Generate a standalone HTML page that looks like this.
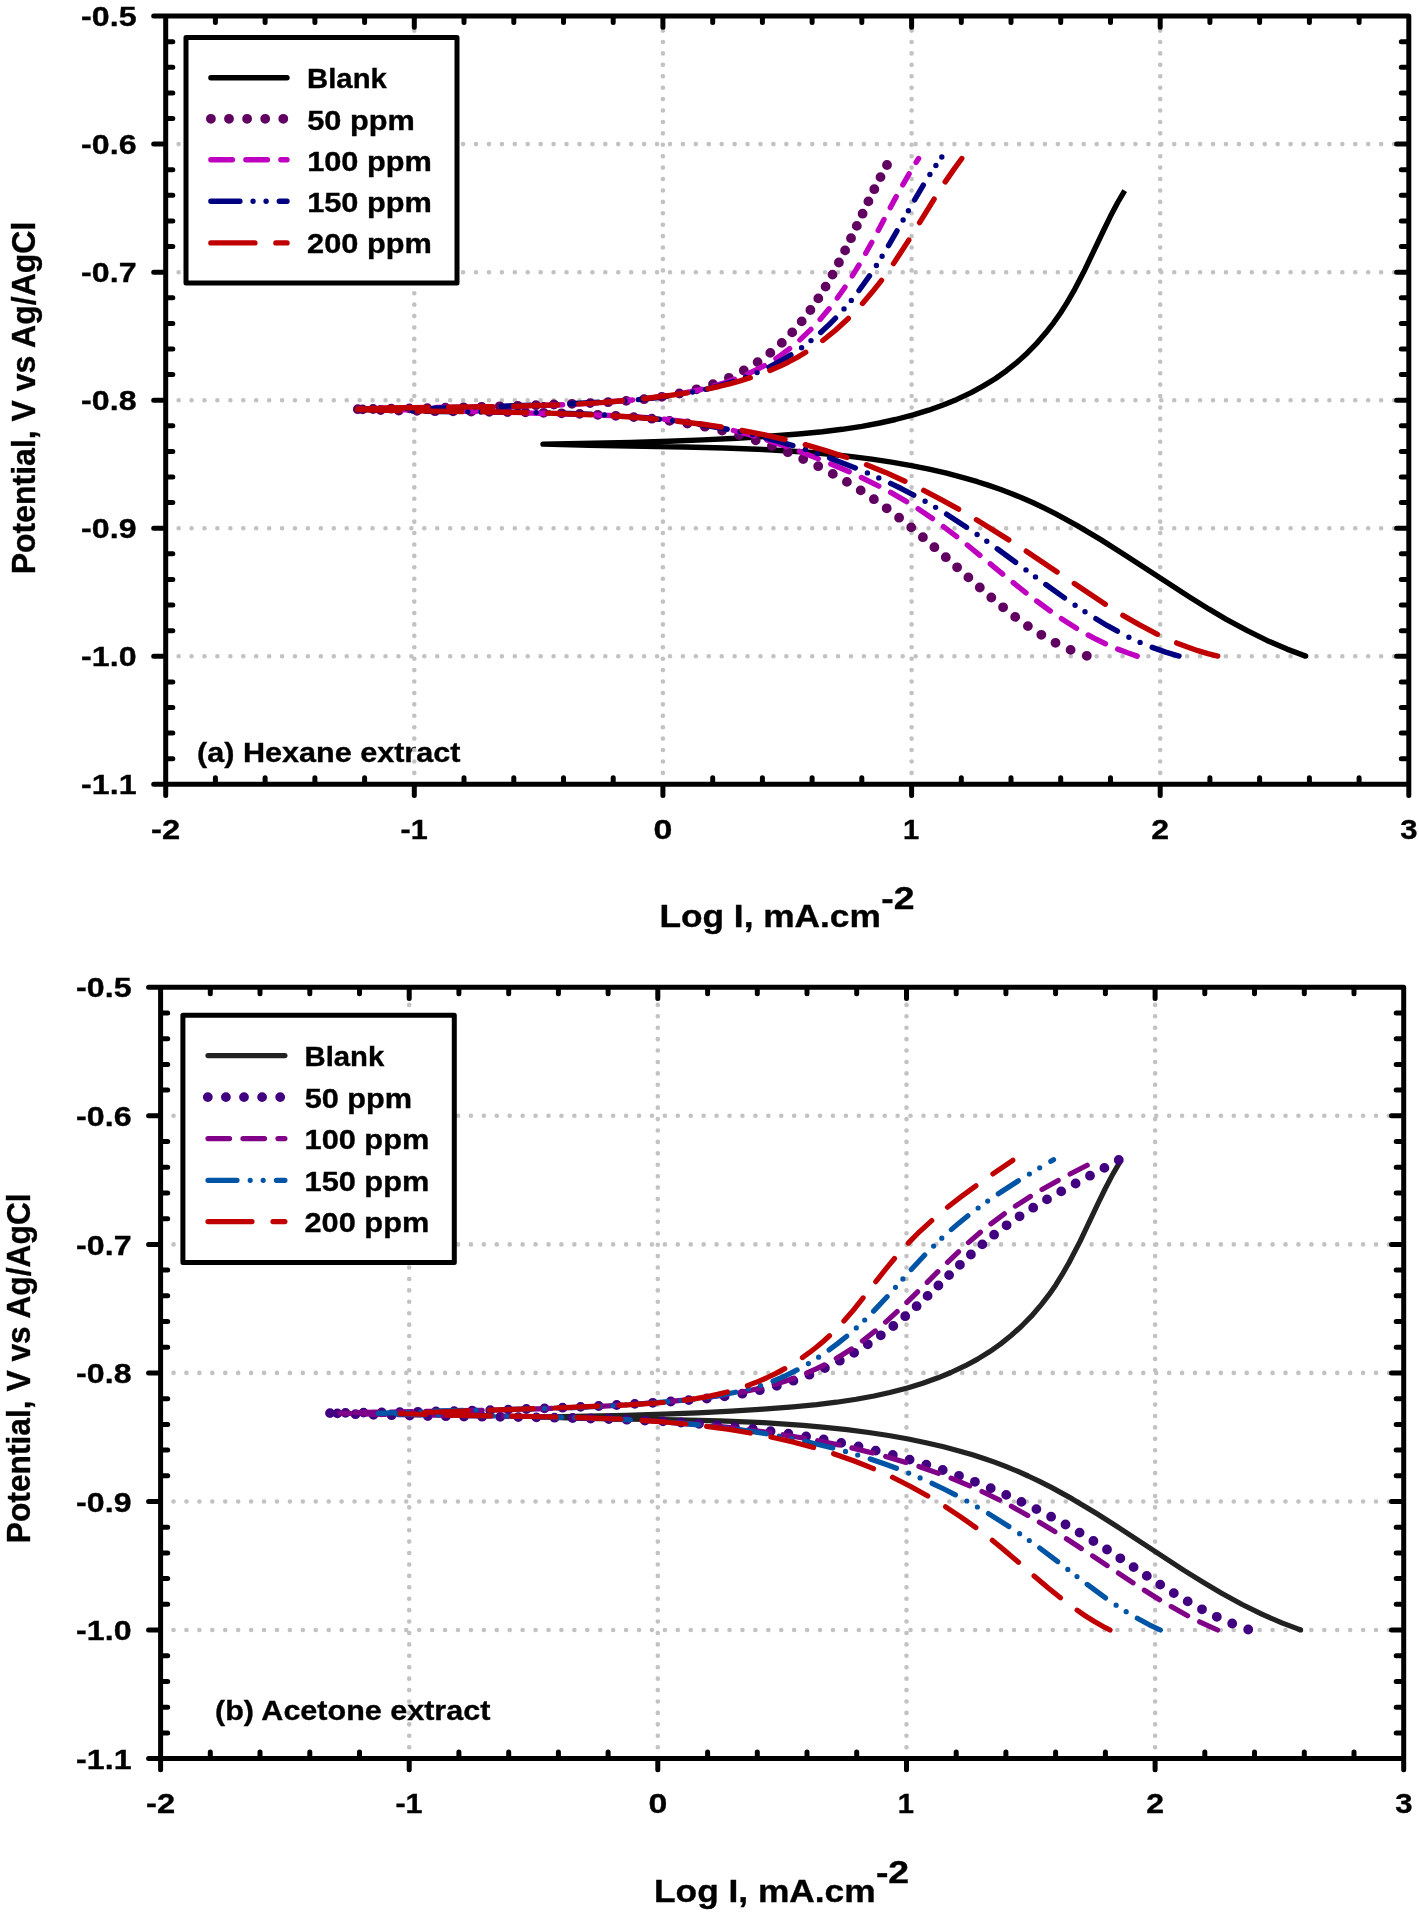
<!DOCTYPE html>
<html><head><meta charset="utf-8"><title>Polarization curves</title>
<style>html,body{margin:0;padding:0;background:#fff}svg{display:block}text{font-family:"Liberation Sans",sans-serif;font-weight:bold}svg{will-change:transform}</style></head>
<body>
<svg width="1419" height="1916" viewBox="0 0 1419 1916" font-family="Liberation Sans, sans-serif" font-weight="bold" fill="#000">
<rect width="1419" height="1916" fill="#fff"/>
<text x="197.07" y="761.50" font-size="27.6" textLength="263.35" lengthAdjust="spacingAndGlyphs" stroke="#000" stroke-width="0.35" >(a) Hexane extract</text>
<path d="M165.7 144.1H1408.8" stroke="#c2c2c2" stroke-width="4.6" stroke-linecap="round" stroke-dasharray="0 12.93" fill="none"/>
<path d="M165.7 272.2H1408.8" stroke="#c2c2c2" stroke-width="4.6" stroke-linecap="round" stroke-dasharray="0 12.93" fill="none"/>
<path d="M165.7 400.2H1408.8" stroke="#c2c2c2" stroke-width="4.6" stroke-linecap="round" stroke-dasharray="0 12.93" fill="none"/>
<path d="M165.7 528.2H1408.8" stroke="#c2c2c2" stroke-width="4.6" stroke-linecap="round" stroke-dasharray="0 12.93" fill="none"/>
<path d="M165.7 656.3H1408.8" stroke="#c2c2c2" stroke-width="4.6" stroke-linecap="round" stroke-dasharray="0 12.93" fill="none"/>
<path d="M414.3 784.3V16.1" stroke="#c2c2c2" stroke-width="4.6" stroke-linecap="round" stroke-dasharray="0 11.42" fill="none"/>
<path d="M662.9 784.3V16.1" stroke="#c2c2c2" stroke-width="4.6" stroke-linecap="round" stroke-dasharray="0 11.42" fill="none"/>
<path d="M911.6 784.3V16.1" stroke="#c2c2c2" stroke-width="4.6" stroke-linecap="round" stroke-dasharray="0 11.42" fill="none"/>
<path d="M1160.2 784.3V16.1" stroke="#c2c2c2" stroke-width="4.6" stroke-linecap="round" stroke-dasharray="0 11.42" fill="none"/>
<path d="M1305.7 656.1 L1287 649.1 L1266.9 640.4 L1247.3 630.7 L1226.3 619.3 L1209.1 609.2 L1188.7 596.5 L1124.9 554.9 L1101.2 539.9 L1077.2 525.6 L1056.3 514.1 L1043.9 507.9 L1033.2 502.8 L1022.3 498 L1011.2 493.5 L1000.1 489.3 L988.8 485.4 L977.4 481.7 L964 477.8 L946.6 473.2 L929 469.2 L911.3 465.6 L891.5 462.1 L871.7 459.2 L851.9 456.6 L830 454.3 L808.2 452.3 L768.4 449.7 L724.6 448 L684.8 447 L589 445.4 L543 444.1 L631.1 442.4 L669.1 441.3 L703 439.9 L736.9 438.2 L768.8 436.3 L798.5 434 L822.3 431.7 L842.1 429.3 L861.9 426.3 L879.7 423 L895.5 419.5 L913.2 414.9 L928.6 410.2 L943.8 404.7 L956.8 399.4 L971.2 392.6 L983.4 385.9 L995.2 378.7 L1006.5 370.7 L1017.3 362.1 L1027.6 352.7 L1037.2 342.8 L1047.5 330.7 L1053.6 322.8 L1060.5 313 L1066.9 302.9 L1074 290.7 L1085.1 269.2 L1103.3 231 L1110.3 216.6 L1117.7 202.5 L1124.7 190.6" fill="none" stroke="#000000" stroke-width="5.4" stroke-linecap="butt" stroke-linejoin="round"/>
<circle cx="1305.7" cy="656.1" r="2.7" fill="#000000"/>
<path d="M1086.8 655.8h0 M1070.6 649.9h0 M1055.5 642.8h0 M1041.3 634.8h0 M1027.9 626.1h0 M1015.2 616.9h0 M1003.1 607.3h0 M991.3 597.5h0 M979.8 587.5h0 M968.4 577.4h0 M957.1 567.3h0 M945.8 557.2h0 M934.4 547.2h0 M922.9 537.2h0 M911.2 527.4h0 M899.1 517.7h0 M886.7 508.3h0 M873.9 499.2h0 M860.7 490.4h0 M846.9 481.9h0 M832.8 473.9h0 M818.2 466.2h0 M803.2 459h0 M787.8 452.2h0 M771.9 446h0 M755.7 440.3h0 M739.1 435.1h0 M722.1 430.6h0 M704.9 426.7h0 M687.4 423.5h0 M669.6 420.9h0 M651.8 418.7h0 M633.8 417.1h0 M615.8 415.8h0 M597.8 414.8h0 M579.7 413.9h0 M561.6 413.3h0 M543.6 412.8h0 M525.5 412.4h0 M507.4 412.1h0 M489.3 411.8h0 M471.2 411.6h0 M453.1 411.4h0 M435 411.2h0 M416.9 410.9h0 M398.8 410.5h0 M380.7 410h0 M362.6 409.4h0 M887 165h0 M880.5 177.1h0 M874.3 189.2h0 M868.4 201.4h0 M862.6 213.7h0 M856.8 225.9h0 M851 238.2h0 M845.1 250.4h0 M838.9 262.5h0 M832.5 274.6h0 M825.6 286.6h0 M818.3 298.4h0 M810.4 310h0 M801.7 321.4h0 M792.2 332.4h0 M781.8 342.9h0 M770.3 352.9h0 M757.6 362.1h0 M743.8 370.5h0 M728.9 377.8h0 M713 384.1h0 M696.5 389.3h0 M679.4 393.5h0 M661.9 396.8h0 M644.1 399.2h0 M626.2 400.9h0 M608.1 402.2h0 M590.1 403.1h0 M572 403.8h0 M553.9 404.5h0 M535.9 405.2h0 M517.8 405.8h0 M499.7 406.3h0 M481.6 406.8h0 M463.5 407.3h0 M445.4 407.7h0 M427.3 408.1h0 M409.3 408.4h0 M391.2 408.7h0 M373.1 409h0 M357.8 409.2h0" fill="none" stroke="#600060" stroke-width="9.8" stroke-linecap="round"/>
<path d="M1137.2 656.1 L1127.5 652.8 L1117.7 649.1 M1105.4 643.7 L1096.3 639.3 L1088.2 635 M1076.5 628.3 L1061.5 618.7 M1050.3 611 L1036.7 601 M1026 592.8 L1013.2 582.6 M1002.7 574.1 L990.3 563.8 M979.9 555.3 L967.3 545 M956.7 536.7 L943.5 526.6 M932.5 518.6 L918.1 508.8 M906.7 501.7 L890.7 492.4 M878.8 486.1 L861.4 477.5 M849.2 471.8 L830.8 463.9 M818.3 458.7 L799.3 451.3 M786.6 446.7 L766.9 440 M754 436 L733.4 430.5 M720.2 427.6 L699 423.7 M685.7 421.7 L664.3 419.2 M650.8 418 L629.3 416.5 M615.9 415.8 L594.4 414.9 M580.9 414.5 L559.4 413.9 M545.9 413.5 L524.4 412.9 M510.9 412.5 L489.4 411.9 M475.9 411.5 L454.4 410.9 M440.9 410.6 L419.4 410.1 M405.9 409.9 L384.4 409.5 M370.9 409.3 L357.8 409.2 M918.6 158.5 L916.1 162.4 M909.1 173.9 L902.8 184.8 M896.2 196.6 L890.3 207.6 M884 219.5 L878.2 230.4 M871.8 242.3 L865.7 253.3 M859 265 L852.3 275.9 M845 287.2 L837.3 298 M829.1 308.8 L820.1 319.5 M810.9 329.4 L799.9 339.9 M789.6 348.6 L782.9 353.7 L775.9 358.6 M764.4 365.6 L756 370 L747.1 374.2 M734.6 379.3 L725.3 382.6 L714.7 385.9 M701.7 389.3 L690.7 391.7 L680.6 393.6 M667.3 395.8 L645.9 398.6 M632.5 400 L611 401.8 M597.6 402.8 L576.1 404.1 M562.6 404.7 L541.1 405.5 M527.6 405.9 L506.1 406.4 M492.6 406.7 L471.1 407 M457.6 407.2 L436.1 407.4 M422.6 407.6 L401.1 408 M387.6 408.3 L366.1 408.9" fill="none" stroke="#c000c0" stroke-width="5.4" stroke-linecap="round" stroke-linejoin="round"/>
<path d="M1179 656.1 L1165.6 652.1 L1152.2 647.4 M1117.4 631.2 L1107.4 625.7 L1095.9 618.7 M1064.5 597.9 L1045.8 584.5 M1015.6 562.3 L997.2 548.8 M966.5 527.2 L946.6 514.2 M913.8 495.1 L901.7 488.8 L890.6 483.4 M855.4 467.9 L829.6 458 M792.9 445.6 L778.7 441.4 L765.4 437.8 M727.2 429.2 L698.6 424.3 M659.6 419.3 L630.6 416.7 M591.3 414.3 L562.3 413.2 M523 412.4 L494 412.1 M454.6 411.7 L425.6 411.3 M386.2 410.4 L357.8 409.2 M923.3 185.1 L914.6 199.9 M897 230.8 L888.5 245.6 M869.5 275.9 L859 290.5 M835.5 318.2 L828.4 325.3 L820.7 332.4 M790.9 354.9 L780.7 361 L768.9 367.1 M733.2 381.6 L719.9 385.6 L705.6 389.3 M667 396.3 L653.3 398 L638.2 399.6 M598.9 402.3 L569.9 403.7 M530.5 405.3 L501.5 406.3 M462.2 407.4 L433.2 408.1 M393.8 408.8 L364.8 409.1" fill="none" stroke="#000080" stroke-width="5.4" stroke-linecap="round" stroke-linejoin="round"/>
<path d="M1140.1 642.4h0 M1128.9 637.2h0 M1085 611.8h0 M1075.1 605.2h0 M1035.5 576.9h0 M1026 569.9h0 M986.8 541.3h0 M977.1 534.5h0 M935.6 507.4h0 M925.1 501.3h0 M878.8 477.9h0 M867.4 472.9h0 M817.3 453.6h0 M805.4 449.5h0 M752.6 434.6h0 M740.1 431.8h0 M685.5 422.4h0 M672.7 420.8h0 M617.5 415.8h0 M604.5 415h0 M549.1 412.9h0 M536.2 412.6h0 M480.8 412h0 M467.8 411.8h0 M412.4 411.1h0 M399.4 410.8h0 M935.9 165.5h0 M929.9 174.5h0 M908.4 210.7h0 M903.1 220h0 M882.1 256.3h0 M876.4 265.5h0 M851.3 300.4h0 M844 308.9h0 M811 340.6h0 M801.6 347.7h0 M757.1 372.6h0 M745.5 377.2h0 M692.7 392h0 M680.1 394.3h0 M625 400.7h0 M612.1 401.5h0 M556.7 404.3h0 M543.7 404.8h0 M488.3 406.7h0 M475.4 407.1h0 M420 408.4h0 M407 408.6h0" fill="none" stroke="#000080" stroke-width="5.4" stroke-linecap="round"/>
<circle cx="941.8" cy="157" r="2.7" fill="#000080"/>
<path d="M1217.7 656.1 L1207.8 653.6 L1197.9 650.7 L1186.8 646.8 L1176.6 642.9 M1157.5 634.3 L1140.1 625.2 L1122.9 615.3 M1105.3 604.2 L1074.3 583.6 M1057.1 571.9 L1026.3 551.2 M1008.8 539.9 L976.5 519.8 M958.6 509.2 L940.8 499.4 L923.7 490.4 M904.9 481.2 L885.6 472.4 L866.5 464.7 M846.9 457.5 L825.7 450.6 L805.3 444.7 M785 439.5 L763.7 434.7 L741.9 430.5 M721.2 427 L700.4 424 L677.4 421.2 M656.5 419.1 L635.2 417.3 L612.6 415.8 M591.6 414.7 L547.6 413.1 M526.6 412.6 L482.6 411.8 M461.6 411.6 L417.6 410.9 M396.6 410.4 L357.8 409.2 M961.8 158.5 L953.7 169.6 L945.2 181.9 M934.1 199.1 L919.6 222.6 M908.8 240.1 L893.5 263.6 M881.5 280.3 L872.6 291.6 L862.5 303.4 M848.3 318.4 L835.2 330.5 L822.8 340.5 M805.7 352.3 L796.7 357.7 L788.1 362.2 L779 366.6 L769.9 370.5 M750.3 377.7 L740.1 380.9 L730.5 383.6 L718.8 386.5 L707.9 388.9 M687.3 392.8 L666.9 395.8 L643.5 398.7 M622.6 400.8 L601 402.6 L578.7 403.9 M557.7 404.9 L513.7 406.2 M492.7 406.6 L448.7 407.1 M427.7 407.4 L383.7 408.3 M362.7 409 L357.8 409.2" fill="none" stroke="#c00000" stroke-width="5.4" stroke-linecap="round" stroke-linejoin="round"/>
<path d="M399.7 410.5 L357.8 409.2 L404 407.8" fill="none" stroke="#c00000" stroke-width="5.4" stroke-linecap="round" stroke-linejoin="round"/>
<path d="M165.7 16.1H1408.8V784.3H165.7ZM165.7 784.3v11.2M215.4 784.3v-6.5M215.4 16.1v6.5M265.1 784.3v-6.5M265.1 16.1v6.5M314.9 784.3v-6.5M314.9 16.1v6.5M364.6 784.3v-6.5M364.6 16.1v6.5M414.3 784.3v11.2M414.3 16.1v11.2M464 784.3v-6.5M464 16.1v6.5M513.8 784.3v-6.5M513.8 16.1v6.5M563.5 784.3v-6.5M563.5 16.1v6.5M613.2 784.3v-6.5M613.2 16.1v6.5M662.9 784.3v11.2M662.9 16.1v11.2M712.7 784.3v-6.5M712.7 16.1v6.5M762.4 784.3v-6.5M762.4 16.1v6.5M812.1 784.3v-6.5M812.1 16.1v6.5M861.8 784.3v-6.5M861.8 16.1v6.5M911.6 784.3v11.2M911.6 16.1v11.2M961.3 784.3v-6.5M961.3 16.1v6.5M1011 784.3v-6.5M1011 16.1v6.5M1060.7 784.3v-6.5M1060.7 16.1v6.5M1110.5 784.3v-6.5M1110.5 16.1v6.5M1160.2 784.3v11.2M1160.2 16.1v11.2M1209.9 784.3v-6.5M1209.9 16.1v6.5M1259.6 784.3v-6.5M1259.6 16.1v6.5M1309.4 784.3v-6.5M1309.4 16.1v6.5M1359.1 784.3v-6.5M1359.1 16.1v6.5M1408.8 784.3v11.2M165.7 16.1h-12M165.7 41.7h7.1M1408.8 41.7h-7.5M165.7 67.3h7.1M1408.8 67.3h-7.5M165.7 92.9h7.1M1408.8 92.9h-7.5M165.7 118.5h7.1M1408.8 118.5h-7.5M165.7 144.1h-12M1408.8 144.1h-12.2M165.7 169.7h7.1M1408.8 169.7h-7.5M165.7 195.3h7.1M1408.8 195.3h-7.5M165.7 221h7.1M1408.8 221h-7.5M165.7 246.6h7.1M1408.8 246.6h-7.5M165.7 272.2h-12M1408.8 272.2h-12.2M165.7 297.8h7.1M1408.8 297.8h-7.5M165.7 323.4h7.1M1408.8 323.4h-7.5M165.7 349h7.1M1408.8 349h-7.5M165.7 374.6h7.1M1408.8 374.6h-7.5M165.7 400.2h-12M1408.8 400.2h-12.2M165.7 425.8h7.1M1408.8 425.8h-7.5M165.7 451.4h7.1M1408.8 451.4h-7.5M165.7 477h7.1M1408.8 477h-7.5M165.7 502.6h7.1M1408.8 502.6h-7.5M165.7 528.2h-12M1408.8 528.2h-12.2M165.7 553.8h7.1M1408.8 553.8h-7.5M165.7 579.4h7.1M1408.8 579.4h-7.5M165.7 605.1h7.1M1408.8 605.1h-7.5M165.7 630.7h7.1M1408.8 630.7h-7.5M165.7 656.3h-12M1408.8 656.3h-12.2M165.7 681.9h7.1M1408.8 681.9h-7.5M165.7 707.5h7.1M1408.8 707.5h-7.5M165.7 733.1h7.1M1408.8 733.1h-7.5M165.7 758.7h7.1M1408.8 758.7h-7.5M165.7 784.3h-12" fill="none" stroke="#000" stroke-width="5" stroke-linecap="round" stroke-linejoin="round"/>
<text x="81.11" y="26.20" font-size="27.8" textLength="55.41" lengthAdjust="spacingAndGlyphs" stroke="#000" stroke-width="0.35" >-0.5</text>
<text x="81.11" y="154.23" font-size="27.8" textLength="55.41" lengthAdjust="spacingAndGlyphs" stroke="#000" stroke-width="0.35" >-0.6</text>
<text x="81.11" y="282.27" font-size="27.8" textLength="55.41" lengthAdjust="spacingAndGlyphs" stroke="#000" stroke-width="0.35" >-0.7</text>
<text x="81.11" y="410.30" font-size="27.8" textLength="55.41" lengthAdjust="spacingAndGlyphs" stroke="#000" stroke-width="0.35" >-0.8</text>
<text x="81.11" y="538.33" font-size="27.8" textLength="55.41" lengthAdjust="spacingAndGlyphs" stroke="#000" stroke-width="0.35" >-0.9</text>
<text x="81.11" y="666.37" font-size="27.8" textLength="55.41" lengthAdjust="spacingAndGlyphs" stroke="#000" stroke-width="0.35" >-1.0</text>
<text x="81.11" y="794.40" font-size="27.8" textLength="55.41" lengthAdjust="spacingAndGlyphs" stroke="#000" stroke-width="0.35" >-1.1</text>
<text x="151.14" y="839.20" font-size="27.8" textLength="29.09" lengthAdjust="spacingAndGlyphs" stroke="#000" stroke-width="0.35" >-2</text>
<text x="400.50" y="839.20" font-size="27.8" textLength="27.16" lengthAdjust="spacingAndGlyphs" stroke="#000" stroke-width="0.35" >-1</text>
<text x="653.53" y="839.20" font-size="27.8" textLength="18.85" lengthAdjust="spacingAndGlyphs" stroke="#000" stroke-width="0.35" >0</text>
<text x="902.96" y="839.20" font-size="27.8" textLength="16.21" lengthAdjust="spacingAndGlyphs" stroke="#000" stroke-width="0.35" >1</text>
<text x="1151.36" y="839.20" font-size="27.8" textLength="17.84" lengthAdjust="spacingAndGlyphs" stroke="#000" stroke-width="0.35" >2</text>
<text x="1400.32" y="839.20" font-size="27.8" textLength="17.30" lengthAdjust="spacingAndGlyphs" stroke="#000" stroke-width="0.35" >3</text>
<text x="659.41" y="927.10" font-size="31" textLength="221.45" lengthAdjust="spacingAndGlyphs" stroke="#000" stroke-width="0.35" >Log I, mA.cm</text>
<text x="881.30" y="909.10" font-size="31" textLength="33.26" lengthAdjust="spacingAndGlyphs" stroke="#000" stroke-width="0.35" >-2</text>
<text transform="translate(35 572.4) rotate(-90)" x="-1.98" y="0" font-size="33.5" textLength="352.73" lengthAdjust="spacingAndGlyphs" stroke="#000" stroke-width="0.35">Potential, V vs Ag/AgCl</text>
<rect x="186" y="37.5" width="271" height="245.5" fill="#fff" stroke="#000" stroke-width="5" stroke-linejoin="round"/>
<path d="M210.9 77.7 L287 77.7" fill="none" stroke="#000000" stroke-width="5.4" stroke-linecap="round" stroke-linejoin="round"/>
<text x="307.10" y="88.20" font-size="27.6" textLength="79.70" lengthAdjust="spacingAndGlyphs" stroke="#000" stroke-width="0.35" >Blank</text>
<path d="M210.9 118.8h0 M229 118.8h0 M247.1 118.8h0 M265.2 118.8h0 M283.3 118.8h0" fill="none" stroke="#600060" stroke-width="9.8" stroke-linecap="round"/>
<text x="307.28" y="129.80" font-size="27.6" textLength="107.49" lengthAdjust="spacingAndGlyphs" stroke="#000" stroke-width="0.35" >50 ppm</text>
<path d="M210.9 159.8 L232.4 159.8 M245.9 159.8 L267.4 159.8 M280.9 159.8 L287 159.8" fill="none" stroke="#c000c0" stroke-width="5.4" stroke-linecap="round" stroke-linejoin="round"/>
<text x="307.16" y="171.00" font-size="27.6" textLength="124.70" lengthAdjust="spacingAndGlyphs" stroke="#000" stroke-width="0.35" >100 ppm</text>
<path d="M210.9 201.3 L239.9 201.3 M279.3 201.3 L287 201.3" fill="none" stroke="#000080" stroke-width="5.4" stroke-linecap="round" stroke-linejoin="round"/>
<path d="M253.1 201.3h0 M266.1 201.3h0" fill="none" stroke="#000080" stroke-width="5.4" stroke-linecap="round"/>
<text x="307.16" y="212.00" font-size="27.6" textLength="124.70" lengthAdjust="spacingAndGlyphs" stroke="#000" stroke-width="0.35" >150 ppm</text>
<path d="M210.9 242.9 L254.9 242.9 M275.9 242.9 L287 242.9" fill="none" stroke="#c00000" stroke-width="5.4" stroke-linecap="round" stroke-linejoin="round"/>
<text x="307.12" y="253.00" font-size="27.6" textLength="124.73" lengthAdjust="spacingAndGlyphs" stroke="#000" stroke-width="0.35" >200 ppm</text>
<text x="215.07" y="1719.60" font-size="27.6" textLength="275.26" lengthAdjust="spacingAndGlyphs" stroke="#000" stroke-width="0.35" >(b) Acetone extract</text>
<path d="M160.6 1115.8H1403.7" stroke="#c2c2c2" stroke-width="4.6" stroke-linecap="round" stroke-dasharray="0 12.93" fill="none"/>
<path d="M160.6 1244.4H1403.7" stroke="#c2c2c2" stroke-width="4.6" stroke-linecap="round" stroke-dasharray="0 12.93" fill="none"/>
<path d="M160.6 1372.9H1403.7" stroke="#c2c2c2" stroke-width="4.6" stroke-linecap="round" stroke-dasharray="0 12.93" fill="none"/>
<path d="M160.6 1501.5H1403.7" stroke="#c2c2c2" stroke-width="4.6" stroke-linecap="round" stroke-dasharray="0 12.93" fill="none"/>
<path d="M160.6 1630H1403.7" stroke="#c2c2c2" stroke-width="4.6" stroke-linecap="round" stroke-dasharray="0 12.93" fill="none"/>
<path d="M409.2 1758.6V987.3" stroke="#c2c2c2" stroke-width="4.6" stroke-linecap="round" stroke-dasharray="0 11.42" fill="none"/>
<path d="M657.8 1758.6V987.3" stroke="#c2c2c2" stroke-width="4.6" stroke-linecap="round" stroke-dasharray="0 11.42" fill="none"/>
<path d="M906.5 1758.6V987.3" stroke="#c2c2c2" stroke-width="4.6" stroke-linecap="round" stroke-dasharray="0 11.42" fill="none"/>
<path d="M1155.1 1758.6V987.3" stroke="#c2c2c2" stroke-width="4.6" stroke-linecap="round" stroke-dasharray="0 11.42" fill="none"/>
<path d="M1300.6 1629.9 L1281.9 1622.9 L1261.8 1614.2 L1242.2 1604.5 L1221.2 1593 L1204 1582.8 L1183.6 1570.1 L1119.9 1528.3 L1096.2 1513.3 L1072.3 1498.9 L1051.4 1487.4 L1039 1481.1 L1028.2 1476 L1017.4 1471.2 L1006.3 1466.6 L995.2 1462.4 L983.9 1458.5 L972.5 1454.8 L959.1 1450.9 L943.6 1446.8 L926 1442.7 L908.3 1439 L888.6 1435.5 L868.7 1432.5 L846.9 1429.6 L825 1427.3 L803.2 1425.3 L763.4 1422.7 L719.6 1420.9 L677.8 1419.9 L581.9 1418.3 L537.9 1417 L625.8 1415.3 L663.7 1414.2 L697.6 1412.9 L731.5 1411.2 L763.2 1409.2 L793 1406.9 L816.7 1404.6 L836.5 1402.2 L856.2 1399.3 L874 1396 L889.8 1392.5 L907.4 1387.9 L922.8 1383.2 L938 1377.8 L950.9 1372.5 L965.4 1365.7 L977.6 1359.1 L989.4 1351.8 L1000.7 1343.9 L1011.4 1335.3 L1021.7 1326 L1031.4 1316.2 L1041.7 1304.1 L1049 1294.7 L1055.8 1284.9 L1062.1 1274.7 L1069.1 1262.5 L1080.2 1241.1 L1098.3 1202.8 L1105.3 1188.5 L1112.7 1174.4 L1119.6 1162.5" fill="none" stroke="#222222" stroke-width="5.2" stroke-linecap="butt" stroke-linejoin="round"/>
<circle cx="1300.6" cy="1629.9" r="2.6" fill="#222222"/>
<path d="M1248.2 1629.5h0 M1232.2 1623.5h0 M1216.8 1616.8h0 M1202 1609.3h0 M1187.7 1601.4h0 M1173.8 1593.1h0 M1160.2 1584.6h0 M1146.8 1575.9h0 M1133.6 1567.1h0 M1120.3 1558.3h0 M1107 1549.5h0 M1093.4 1541h0 M1079.6 1532.6h0 M1065.5 1524.5h0 M1051.1 1516.7h0 M1036.4 1509.1h0 M1021.4 1501.9h0 M1006.2 1494.9h0 M990.7 1488.2h0 M974.9 1481.8h0 M959 1475.8h0 M942.7 1470h0 M926.3 1464.6h0 M909.6 1459.6h0 M892.8 1454.9h0 M875.7 1450.6h0 M858.5 1446.5h0 M841.2 1442.9h0 M823.7 1439.5h0 M806.1 1436.5h0 M788.4 1433.7h0 M770.6 1431.2h0 M752.8 1429h0 M734.9 1427.1h0 M717 1425.3h0 M699 1423.8h0 M681 1422.5h0 M663 1421.4h0 M644.9 1420.5h0 M626.8 1419.7h0 M608.8 1419h0 M590.7 1418.5h0 M572.6 1418h0 M554.5 1417.7h0 M536.4 1417.4h0 M518.3 1417.1h0 M500.2 1416.9h0 M482.1 1416.7h0 M464 1416.5h0 M445.9 1416.2h0 M427.8 1416h0 M409.7 1415.6h0 M391.6 1415.2h0 M373.5 1414.8h0 M355.5 1414.2h0 M337.4 1413.4h0 M1118.8 1160h0 M1104.4 1167.9h0 M1090 1175.7h0 M1075.6 1183.5h0 M1061.2 1191.4h0 M1047 1199.4h0 M1033.2 1207.7h0 M1019.6 1216.3h0 M1006.6 1225.3h0 M994.1 1234.7h0 M982.3 1244.4h0 M970.9 1254.5h0 M959.9 1264.8h0 M949.1 1275.1h0 M938.4 1285.5h0 M927.6 1295.9h0 M916.6 1306.2h0 M905.2 1316.2h0 M893.3 1326h0 M880.8 1335.3h0 M867.8 1344.3h0 M854.1 1352.8h0 M839.8 1360.7h0 M824.9 1368h0 M809.4 1374.7h0 M793.4 1380.7h0 M776.8 1385.9h0 M759.8 1390.2h0 M742.3 1393.7h0 M724.6 1396.4h0 M706.8 1398.5h0 M688.8 1400.1h0 M670.8 1401.5h0 M652.8 1402.8h0 M634.8 1403.9h0 M616.7 1405h0 M598.7 1406h0 M580.6 1406.9h0 M562.6 1407.7h0 M544.5 1408.4h0 M526.4 1409h0 M508.3 1409.6h0 M490.2 1410.2h0 M472.2 1410.6h0 M454.1 1411.1h0 M436 1411.4h0 M417.9 1411.8h0 M399.8 1412.1h0 M381.7 1412.4h0 M363.6 1412.6h0 M345.5 1412.9h0 M330 1413.1h0" fill="none" stroke="#400080" stroke-width="9.8" stroke-linecap="round"/>
<path d="M1217.6 1630 L1199.6 1621.8 M1187.6 1615.7 L1171.2 1606.6 M1159.6 1599.7 L1144.4 1590.2 M1133.1 1582.8 L1118.4 1573.1 M1107.2 1565.6 L1092.6 1555.9 M1081.3 1548.5 L1066.4 1538.8 M1054.9 1531.6 L1039.4 1522.2 M1027.8 1515.4 L1011.4 1506.3 M999.5 1500 L982 1491.5 M969.7 1485.9 L951.1 1478.2 M938.5 1473.4 L918.9 1466.5 M906 1462.4 L885.7 1456.4 M872.7 1453 L851.9 1447.9 M838.7 1444.9 L817.6 1440.7 M804.4 1438.2 L783.1 1434.7 M769.8 1432.7 L748.4 1429.8 M735 1428.1 L713.6 1425.8 M700.1 1424.6 L678.6 1422.8 M665.2 1421.8 L643.7 1420.5 M630.2 1419.8 L608.7 1418.8 M595.2 1418.3 L573.7 1417.6 M560.2 1417.2 L538.7 1416.7 M525.2 1416.5 L503.7 1416.2 M490.2 1416 L468.7 1415.7 M455.2 1415.5 L433.7 1415.2 M420.2 1415 L398.7 1414.7 M385.2 1414.4 L363.7 1413.9 M350.2 1413.4 L340 1413.1 M1087.2 1165.3 L1070.1 1174 M1058.2 1180.4 L1042 1189.5 M1030.4 1196.5 L1015.4 1206.1 M1004.3 1213.8 L990.9 1223.8 M980.4 1232.3 L968.4 1242.6 M958.5 1251.8 L947.5 1262.3 M937.8 1271.7 L927.2 1282.3 M917.6 1291.8 L906.9 1302.4 M897.1 1311.6 L885.6 1322.1 M875.3 1330.9 L862.4 1341 M851.5 1348.9 L844 1353.7 L836.3 1358.4 M824.4 1364.9 L816.2 1368.9 L806.6 1373.2 M794 1378.1 L785 1381.2 L774.1 1384.6 M761.1 1388 L740.1 1392.5 M726.8 1394.8 L705.4 1397.8 M692 1399.3 L670.5 1401.4 M657.1 1402.5 L635.6 1404.1 M622.1 1405 L600.7 1406.3 M587.2 1407 L565.7 1407.9 M552.2 1408.4 L530.7 1409.1 M517.2 1409.5 L495.7 1410 M482.2 1410.3 L460.7 1410.7 M447.2 1411 L425.7 1411.4 M412.2 1411.6 L390.7 1412 M377.2 1412.2 L355.7 1412.7 M342.2 1413 L340 1413.1" fill="none" stroke="#800088" stroke-width="5.2" stroke-linecap="round" stroke-linejoin="round"/>
<path d="M1160.4 1630 L1149.3 1624.8 L1137.3 1618.3 M1105.5 1597.9 L1087.2 1584.4 M1057.7 1561.6 L1039.7 1548 M1008.9 1526.5 L988.5 1513.6 M955.4 1494.9 L942.9 1488.5 L932 1483.3 M896.5 1468.3 L884.2 1463.8 L870.2 1459 M832.8 1448 L804.8 1441.2 M766.3 1433.8 L737.6 1429.4 M698.5 1424.8 L669.6 1422.3 M630.3 1419.8 L601.3 1418.5 M561.9 1417.3 L532.9 1416.7 M493.5 1416 L464.5 1415.6 M425.1 1414.8 L396.1 1414 M1053.5 1159.7 L1050.8 1161.3 M1018.4 1180.8 L998.3 1193.8 M967.9 1215.8 L959.1 1222.9 L951.3 1229.6 M924.7 1255.1 L911.3 1269.5 M887.1 1296.7 L873.6 1311.1 M846.7 1336.2 L837.5 1343.6 L829.1 1349.9 M797.1 1369.9 L785.3 1375.8 L773 1381.1 M735.7 1392.2 L722.8 1394.8 L707.2 1397.4 M668.1 1401.7 L639.1 1404 M599.8 1406.3 L570.8 1407.6 M531.4 1408.8 L502.4 1409.5 M463 1410.4 L434 1411.2 M394.7 1412.6 L378 1413.3" fill="none" stroke="#0054a6" stroke-width="5.2" stroke-linecap="round" stroke-linejoin="round"/>
<path d="M1126.2 1611.7h0 M1116.1 1605.2h0 M1077 1576.6h0 M1067.8 1569.4h0 M1029.3 1540.5h0 M1019.6 1533.7h0 M977.4 1507h0 M966.8 1501h0 M920.1 1477.9h0 M908.7 1473.1h0 M857.7 1455h0 M845.5 1451.4h0 M791.9 1438.5h0 M779.3 1436.1h0 M724.5 1427.7h0 M711.6 1426.2h0 M656.4 1421.3h0 M643.5 1420.5h0 M588.1 1418h0 M575.1 1417.6h0 M519.7 1416.4h0 M506.7 1416.2h0 M451.3 1415.4h0 M438.3 1415.1h0 M382.9 1413.5h0 M1039.7 1167.8h0 M1029.4 1174h0 M987.7 1201.1h0 M978.1 1208h0 M941.8 1238.2h0 M933.6 1246.1h0 M902.9 1278.9h0 M895.5 1287.3h0 M864.7 1320h0 M856.3 1327.9h0 M818.6 1357.2h0 M808.4 1363.6h0 M760.6 1385.5h0 M748.5 1389.1h0 M694.1 1399.1h0 M681.2 1400.5h0 M625.9 1404.9h0 M613 1405.7h0 M557.6 1408h0 M544.6 1408.4h0 M489.2 1409.8h0 M476.2 1410.1h0 M420.9 1411.6h0 M407.9 1412h0" fill="none" stroke="#0054a6" stroke-width="5.2" stroke-linecap="round"/>
<path d="M1110 1630 L1102.7 1626.2 L1094 1621.2 L1085.5 1616 L1077.1 1610.2 M1060.4 1597.8 L1048.9 1588.5 L1034.1 1575.9 M1018.5 1562.3 L1003.8 1549.7 L992.3 1540.3 M975.9 1527.6 L960.7 1516.8 L945.6 1506.8 M927.8 1496 L910.7 1486.5 L892.5 1477.3 M873.5 1468.7 L854.3 1461 L833.6 1453.7 M813.6 1447.5 L791.9 1441.8 L770.9 1437 M750.3 1433 L729.4 1429.5 L706.6 1426.4 M685.8 1424 L664.1 1422 L641.8 1420.4 M620.9 1419.2 L576.9 1417.5 M555.9 1417 L511.9 1416.2 M490.9 1415.9 L446.9 1415.1 M425.9 1414.5 L400 1413.5 M1012.8 1160.3 L992.9 1173.9 M975.9 1185.8 L960.5 1197.2 L947.5 1207.2 M931.7 1220.6 L919.4 1231.8 L908.3 1243.1 M894.5 1258.5 L885.9 1268.9 L875.8 1281.7 M863.1 1297.9 L852.4 1311.3 L843.9 1321 M829.5 1335.8 L823.2 1341.5 L816.9 1346.8 L809.2 1352.7 L802.4 1357.6 M784.8 1368.6 L775.4 1373.6 L766.4 1378 L757.2 1381.9 L747.4 1385.7 M727.4 1392 L717.5 1394.4 L707.4 1396.6 L695.8 1398.6 L684.1 1400.2 M663.3 1402.5 L643.6 1403.9 L619.3 1405.3 M598.3 1406.2 L554.3 1408 M533.3 1408.7 L489.3 1410.2 M468.3 1410.9 L424.3 1412.5 M403.4 1413.4 L400 1413.5" fill="none" stroke="#c00000" stroke-width="5.2" stroke-linecap="round" stroke-linejoin="round"/>
<path d="M160.6 987.3H1403.7V1758.6H160.6ZM160.6 1758.6v11.2M210.3 1758.6v-6.5M210.3 987.3v6.5M260 1758.6v-6.5M260 987.3v6.5M309.8 1758.6v-6.5M309.8 987.3v6.5M359.5 1758.6v-6.5M359.5 987.3v6.5M409.2 1758.6v11.2M409.2 987.3v11.2M458.9 1758.6v-6.5M458.9 987.3v6.5M508.7 1758.6v-6.5M508.7 987.3v6.5M558.4 1758.6v-6.5M558.4 987.3v6.5M608.1 1758.6v-6.5M608.1 987.3v6.5M657.8 1758.6v11.2M657.8 987.3v11.2M707.6 1758.6v-6.5M707.6 987.3v6.5M757.3 1758.6v-6.5M757.3 987.3v6.5M807 1758.6v-6.5M807 987.3v6.5M856.7 1758.6v-6.5M856.7 987.3v6.5M906.5 1758.6v11.2M906.5 987.3v11.2M956.2 1758.6v-6.5M956.2 987.3v6.5M1005.9 1758.6v-6.5M1005.9 987.3v6.5M1055.6 1758.6v-6.5M1055.6 987.3v6.5M1105.4 1758.6v-6.5M1105.4 987.3v6.5M1155.1 1758.6v11.2M1155.1 987.3v11.2M1204.8 1758.6v-6.5M1204.8 987.3v6.5M1254.5 1758.6v-6.5M1254.5 987.3v6.5M1304.3 1758.6v-6.5M1304.3 987.3v6.5M1354 1758.6v-6.5M1354 987.3v6.5M1403.7 1758.6v11.2M160.6 987.3h-12M160.6 1013h7.1M1403.7 1013h-7.5M160.6 1038.7h7.1M1403.7 1038.7h-7.5M160.6 1064.4h7.1M1403.7 1064.4h-7.5M160.6 1090.1h7.1M1403.7 1090.1h-7.5M160.6 1115.8h-12M1403.7 1115.8h-12.2M160.6 1141.6h7.1M1403.7 1141.6h-7.5M160.6 1167.3h7.1M1403.7 1167.3h-7.5M160.6 1193h7.1M1403.7 1193h-7.5M160.6 1218.7h7.1M1403.7 1218.7h-7.5M160.6 1244.4h-12M1403.7 1244.4h-12.2M160.6 1270.1h7.1M1403.7 1270.1h-7.5M160.6 1295.8h7.1M1403.7 1295.8h-7.5M160.6 1321.5h7.1M1403.7 1321.5h-7.5M160.6 1347.2h7.1M1403.7 1347.2h-7.5M160.6 1372.9h-12M1403.7 1372.9h-12.2M160.6 1398.7h7.1M1403.7 1398.7h-7.5M160.6 1424.4h7.1M1403.7 1424.4h-7.5M160.6 1450.1h7.1M1403.7 1450.1h-7.5M160.6 1475.8h7.1M1403.7 1475.8h-7.5M160.6 1501.5h-12M1403.7 1501.5h-12.2M160.6 1527.2h7.1M1403.7 1527.2h-7.5M160.6 1552.9h7.1M1403.7 1552.9h-7.5M160.6 1578.6h7.1M1403.7 1578.6h-7.5M160.6 1604.3h7.1M1403.7 1604.3h-7.5M160.6 1630h-12M1403.7 1630h-12.2M160.6 1655.8h7.1M1403.7 1655.8h-7.5M160.6 1681.5h7.1M1403.7 1681.5h-7.5M160.6 1707.2h7.1M1403.7 1707.2h-7.5M160.6 1732.9h7.1M1403.7 1732.9h-7.5M160.6 1758.6h-12" fill="none" stroke="#000" stroke-width="5" stroke-linecap="round" stroke-linejoin="round"/>
<text x="76.11" y="997.40" font-size="27.8" textLength="55.41" lengthAdjust="spacingAndGlyphs" stroke="#000" stroke-width="0.35" >-0.5</text>
<text x="76.11" y="1125.95" font-size="27.8" textLength="55.41" lengthAdjust="spacingAndGlyphs" stroke="#000" stroke-width="0.35" >-0.6</text>
<text x="76.11" y="1254.50" font-size="27.8" textLength="55.41" lengthAdjust="spacingAndGlyphs" stroke="#000" stroke-width="0.35" >-0.7</text>
<text x="76.11" y="1383.05" font-size="27.8" textLength="55.41" lengthAdjust="spacingAndGlyphs" stroke="#000" stroke-width="0.35" >-0.8</text>
<text x="76.11" y="1511.60" font-size="27.8" textLength="55.41" lengthAdjust="spacingAndGlyphs" stroke="#000" stroke-width="0.35" >-0.9</text>
<text x="76.11" y="1640.15" font-size="27.8" textLength="55.41" lengthAdjust="spacingAndGlyphs" stroke="#000" stroke-width="0.35" >-1.0</text>
<text x="76.11" y="1768.70" font-size="27.8" textLength="55.41" lengthAdjust="spacingAndGlyphs" stroke="#000" stroke-width="0.35" >-1.1</text>
<text x="146.04" y="1813.20" font-size="27.8" textLength="29.09" lengthAdjust="spacingAndGlyphs" stroke="#000" stroke-width="0.35" >-2</text>
<text x="395.40" y="1813.20" font-size="27.8" textLength="27.16" lengthAdjust="spacingAndGlyphs" stroke="#000" stroke-width="0.35" >-1</text>
<text x="648.43" y="1813.20" font-size="27.8" textLength="18.85" lengthAdjust="spacingAndGlyphs" stroke="#000" stroke-width="0.35" >0</text>
<text x="897.86" y="1813.20" font-size="27.8" textLength="16.21" lengthAdjust="spacingAndGlyphs" stroke="#000" stroke-width="0.35" >1</text>
<text x="1146.26" y="1813.20" font-size="27.8" textLength="17.84" lengthAdjust="spacingAndGlyphs" stroke="#000" stroke-width="0.35" >2</text>
<text x="1395.22" y="1813.20" font-size="27.8" textLength="17.30" lengthAdjust="spacingAndGlyphs" stroke="#000" stroke-width="0.35" >3</text>
<text x="654.01" y="1902.40" font-size="31" textLength="221.65" lengthAdjust="spacingAndGlyphs" stroke="#000" stroke-width="0.35" >Log I, mA.cm</text>
<text x="875.90" y="1883.20" font-size="31" textLength="33.26" lengthAdjust="spacingAndGlyphs" stroke="#000" stroke-width="0.35" >-2</text>
<text transform="translate(30 1541.3) rotate(-90)" x="-1.96" y="0" font-size="33.5" textLength="349.89" lengthAdjust="spacingAndGlyphs" stroke="#000" stroke-width="0.35">Potential, V vs Ag/AgCl</text>
<rect x="182.9" y="1015.3" width="271.4" height="247.2" fill="#fff" stroke="#000" stroke-width="5" stroke-linejoin="round"/>
<path d="M208 1055.6 L284.9 1055.6" fill="none" stroke="#222222" stroke-width="5.2" stroke-linecap="round" stroke-linejoin="round"/>
<text x="304.50" y="1065.60" font-size="27.6" textLength="79.70" lengthAdjust="spacingAndGlyphs" stroke="#000" stroke-width="0.35" >Blank</text>
<path d="M207.8 1097.1h0 M225.9 1097.1h0 M244 1097.1h0 M262.1 1097.1h0 M280.2 1097.1h0" fill="none" stroke="#400080" stroke-width="9.8" stroke-linecap="round"/>
<text x="304.68" y="1107.60" font-size="27.6" textLength="107.49" lengthAdjust="spacingAndGlyphs" stroke="#000" stroke-width="0.35" >50 ppm</text>
<path d="M208 1138.6 L229.5 1138.6 M243 1138.6 L264.5 1138.6 M278 1138.6 L284.9 1138.6" fill="none" stroke="#800088" stroke-width="5.2" stroke-linecap="round" stroke-linejoin="round"/>
<text x="304.56" y="1149.10" font-size="27.6" textLength="124.70" lengthAdjust="spacingAndGlyphs" stroke="#000" stroke-width="0.35" >100 ppm</text>
<path d="M208 1180.3 L237 1180.3 M276.4 1180.3 L284.9 1180.3" fill="none" stroke="#0054a6" stroke-width="5.2" stroke-linecap="round" stroke-linejoin="round"/>
<path d="M250.2 1180.3h0 M263.2 1180.3h0" fill="none" stroke="#0054a6" stroke-width="5.2" stroke-linecap="round"/>
<text x="304.56" y="1190.60" font-size="27.6" textLength="124.70" lengthAdjust="spacingAndGlyphs" stroke="#000" stroke-width="0.35" >150 ppm</text>
<path d="M208 1221.6 L252 1221.6 M273 1221.6 L284.9 1221.6" fill="none" stroke="#c00000" stroke-width="5.2" stroke-linecap="round" stroke-linejoin="round"/>
<text x="304.52" y="1231.70" font-size="27.6" textLength="124.73" lengthAdjust="spacingAndGlyphs" stroke="#000" stroke-width="0.35" >200 ppm</text>
</svg>
</body></html>
